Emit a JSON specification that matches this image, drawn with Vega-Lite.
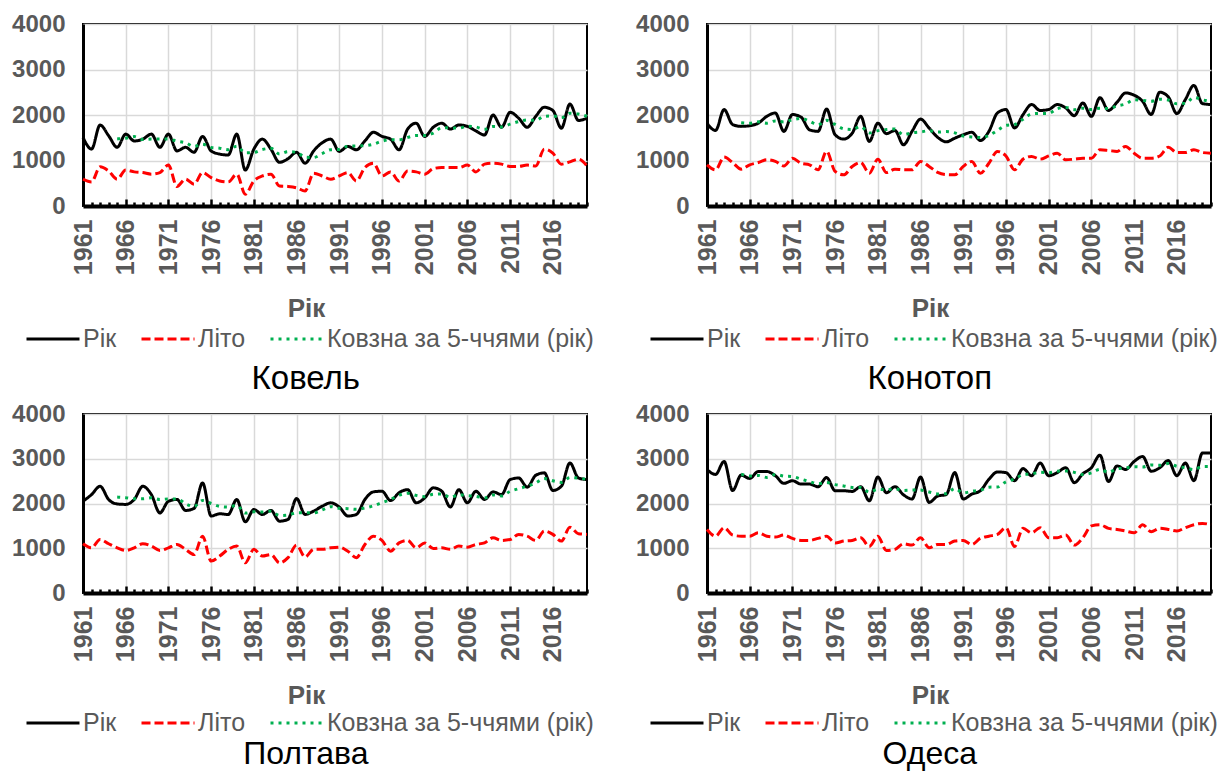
{
  "$schema": "https://vega.github.io/schema/vega-lite/v6.json",
  "background": "white",
  "padding": {"left": 10, "top": 11, "right": 2, "bottom": 0},
  "config": {
    "font": "Liberation Sans",
    "view": {"stroke": "#000000", "strokeWidth": 2},
    "title": {"orient": "bottom", "anchor": "middle", "frame": "bounds", "fontSize": 33, "fontWeight": "normal", "color": "#000000", "font": "Liberation Sans", "offset": 11},
    "legend": {"direction": "horizontal", "labelFont": "Liberation Sans", "labelFontSize": 25, "labelColor": "#595959", "symbolType": "stroke", "symbolSize": 2809, "symbolStrokeWidth": 3, "columnPadding": 18, "labelOffset": 2, "padding": 0, "labelLimit": 400}
  },
  "datasets": {
    "K": [
      {"y":1961,"r":1510,"l":590},{"y":1962,"r":1250,"l":530},{"y":1963,"r":1780,"l":860},{"y":1964,"r":1545,"l":770},{"y":1965,"r":1290,"l":590,"m":1475},
      {"y":1966,"r":1580,"l":790,"m":1489},{"y":1967,"r":1430,"l":750,"m":1525},{"y":1968,"r":1470,"l":735,"m":1463},{"y":1969,"r":1580,"l":700,"m":1470},{"y":1970,"r":1290,"l":735,"m":1470},
      {"y":1971,"r":1580,"l":900,"m":1470},{"y":1972,"r":1210,"l":430,"m":1426},{"y":1973,"r":1290,"l":590,"m":1390},{"y":1974,"r":1180,"l":480,"m":1310},{"y":1975,"r":1530,"l":735,"m":1358},
      {"y":1976,"r":1210,"l":625,"m":1284},{"y":1977,"r":1140,"l":550,"m":1270},{"y":1978,"r":1120,"l":530,"m":1236},{"y":1979,"r":1580,"l":700,"m":1316},{"y":1980,"r":790,"l":260,"m":1168},
      {"y":1981,"r":1250,"l":550,"m":1176},{"y":1982,"r":1470,"l":660,"m":1242},{"y":1983,"r":1250,"l":700,"m":1268},{"y":1984,"r":960,"l":440,"m":1144},{"y":1985,"r":1040,"l":430,"m":1194},
      {"y":1986,"r":1180,"l":400,"m":1180},{"y":1987,"r":940,"l":330,"m":1074},{"y":1988,"r":1210,"l":720,"m":1066},{"y":1989,"r":1390,"l":660,"m":1152},{"y":1990,"r":1470,"l":590,"m":1238},
      {"y":1991,"r":1200,"l":660,"m":1242},{"y":1992,"r":1310,"l":735,"m":1316},{"y":1993,"r":1235,"l":550,"m":1321},{"y":1994,"r":1430,"l":845,"m":1329},{"y":1995,"r":1620,"l":940,"m":1359},
      {"y":1996,"r":1530,"l":660,"m":1425},{"y":1997,"r":1470,"l":750,"m":1457},{"y":1998,"r":1235,"l":550,"m":1457},{"y":1999,"r":1690,"l":770,"m":1509},{"y":2000,"r":1820,"l":750,"m":1549},
      {"y":2001,"r":1530,"l":700,"m":1549},{"y":2002,"r":1730,"l":820,"m":1601},{"y":2003,"r":1820,"l":845,"m":1718},{"y":2004,"r":1690,"l":845,"m":1718},{"y":2005,"r":1780,"l":845,"m":1710},
      {"y":2006,"r":1750,"l":900,"m":1754},{"y":2007,"r":1650,"l":750,"m":1738},{"y":2008,"r":1560,"l":920,"m":1686},{"y":2009,"r":2000,"l":940,"m":1748},{"y":2010,"r":1730,"l":920,"m":1738},
      {"y":2011,"r":2060,"l":870,"m":1800},{"y":2012,"r":1930,"l":870,"m":1856},{"y":2013,"r":1730,"l":900,"m":1890},{"y":2014,"r":1970,"l":880,"m":1884},{"y":2015,"r":2170,"l":1250,"m":1972},
      {"y":2016,"r":2100,"l":1160,"m":1980},{"y":2017,"r":1710,"l":920,"m":1936},{"y":2018,"r":2240,"l":970,"m":2038},{"y":2019,"r":1880,"l":1030,"m":2020},{"y":2020,"r":1930,"l":880,"m":1972}
    ],
    "Kn": [
      {"y":1961,"r":1820,"l":905},{"y":1962,"r":1660,"l":795},{"y":1963,"r":2120,"l":1075},{"y":1964,"r":1790,"l":955},{"y":1965,"r":1750,"l":810,"m":1828},
      {"y":1966,"r":1765,"l":905,"m":1817},{"y":1967,"r":1820,"l":955,"m":1849},{"y":1968,"r":1970,"l":1015,"m":1819},{"y":1969,"r":2045,"l":980,"m":1870},{"y":1970,"r":1640,"l":880,"m":1848},
      {"y":1971,"r":2010,"l":1050,"m":1897},{"y":1972,"r":1955,"l":940,"m":1924},{"y":1973,"r":1675,"l":905,"m":1865},{"y":1974,"r":1640,"l":795,"m":1784},{"y":1975,"r":2130,"l":1200,"m":1882},
      {"y":1976,"r":1565,"l":760,"m":1793},{"y":1977,"r":1470,"l":685,"m":1696},{"y":1978,"r":1600,"l":870,"m":1681},{"y":1979,"r":1970,"l":955,"m":1747},{"y":1980,"r":1420,"l":720,"m":1605},
      {"y":1981,"r":1820,"l":1030,"m":1656},{"y":1982,"r":1590,"l":735,"m":1680},{"y":1983,"r":1660,"l":810,"m":1692},{"y":1984,"r":1345,"l":795,"m":1567},{"y":1985,"r":1640,"l":795,"m":1611},
      {"y":1986,"r":1910,"l":980,"m":1629},{"y":1987,"r":1715,"l":870,"m":1654},{"y":1988,"r":1510,"l":740,"m":1624},{"y":1989,"r":1410,"l":690,"m":1637},{"y":1990,"r":1490,"l":685,"m":1607},
      {"y":1991,"r":1565,"l":870,"m":1538},{"y":1992,"r":1620,"l":980,"m":1519},{"y":1993,"r":1440,"l":720,"m":1505},{"y":1994,"r":1640,"l":940,"m":1551},{"y":1995,"r":2045,"l":1200,"m":1662},
      {"y":1996,"r":2120,"l":1100,"m":1773},{"y":1997,"r":1715,"l":795,"m":1792},{"y":1998,"r":2010,"l":1030,"m":1906},{"y":1999,"r":2230,"l":1090,"m":2024},{"y":2000,"r":2100,"l":1030,"m":2035},
      {"y":2001,"r":2120,"l":1100,"m":2035},{"y":2002,"r":2230,"l":1160,"m":2138},{"y":2003,"r":2155,"l":1015,"m":2167},{"y":2004,"r":1985,"l":1030,"m":2118},{"y":2005,"r":2265,"l":1050,"m":2151},
      {"y":2006,"r":1970,"l":1050,"m":2121},{"y":2007,"r":2380,"l":1235,"m":2151},{"y":2008,"r":2100,"l":1220,"m":2140},{"y":2009,"r":2280,"l":1200,"m":2199},{"y":2010,"r":2485,"l":1310,"m":2243},
      {"y":2011,"r":2435,"l":1160,"m":2336},{"y":2012,"r":2300,"l":1050,"m":2320},{"y":2013,"r":2010,"l":1050,"m":2302},{"y":2014,"r":2500,"l":1100,"m":2346},{"y":2015,"r":2400,"l":1290,"m":2329},
      {"y":2016,"r":2030,"l":1175,"m":2248},{"y":2017,"r":2340,"l":1175,"m":2256},{"y":2018,"r":2650,"l":1235,"m":2384},{"y":2019,"r":2250,"l":1175,"m":2334},{"y":2020,"r":2230,"l":1160,"m":2292}
    ],
    "P": [
      {"y":1961,"r":2050,"l":1100},{"y":1962,"r":2200,"l":1010},{"y":1963,"r":2385,"l":1195},{"y":1964,"r":2090,"l":1100},{"y":1965,"r":1990,"l":1010,"m":2143},
      {"y":1966,"r":1980,"l":950,"m":2129},{"y":1967,"r":2090,"l":1010,"m":2107},{"y":1968,"r":2385,"l":1100,"m":2107},{"y":1969,"r":2200,"l":1050,"m":2129},{"y":1970,"r":1790,"l":950,"m":2089},
      {"y":1971,"r":2050,"l":1010,"m":2103},{"y":1972,"r":2090,"l":1085,"m":2103},{"y":1973,"r":1845,"l":975,"m":1995},{"y":1974,"r":1890,"l":860,"m":1933},{"y":1975,"r":2460,"l":1270,"m":2067},
      {"y":1976,"r":1720,"l":715,"m":2001},{"y":1977,"r":1770,"l":825,"m":1937},{"y":1978,"r":1755,"l":975,"m":1919},{"y":1979,"r":2090,"l":1050,"m":1959},{"y":1980,"r":1590,"l":675,"m":1785},
      {"y":1981,"r":1865,"l":975,"m":1814},{"y":1982,"r":1755,"l":825,"m":1811},{"y":1983,"r":1845,"l":860,"m":1829},{"y":1984,"r":1605,"l":675,"m":1732},{"y":1985,"r":1645,"l":790,"m":1743},
      {"y":1986,"r":2110,"l":1070,"m":1792},{"y":1987,"r":1755,"l":805,"m":1792},{"y":1988,"r":1830,"l":975,"m":1789},{"y":1989,"r":1940,"l":975,"m":1856},{"y":1990,"r":2015,"l":1010,"m":1930},
      {"y":1991,"r":1920,"l":1025,"m":1892},{"y":1992,"r":1720,"l":935,"m":1885},{"y":1993,"r":1755,"l":790,"m":1870},{"y":1994,"r":2090,"l":1085,"m":1900},{"y":1995,"r":2260,"l":1270,"m":1949},
      {"y":1996,"r":2275,"l":1175,"m":2020},{"y":1997,"r":2065,"l":935,"m":2089},{"y":1998,"r":2240,"l":1120,"m":2186},{"y":1999,"r":2310,"l":1175,"m":2230},{"y":2000,"r":2015,"l":1010,"m":2181},
      {"y":2001,"r":2125,"l":1120,"m":2151},{"y":2002,"r":2350,"l":995,"m":2208},{"y":2003,"r":2275,"l":1010,"m":2215},{"y":2004,"r":1920,"l":975,"m":2137},{"y":2005,"r":2310,"l":1050,"m":2196},
      {"y":2006,"r":2015,"l":1025,"m":2174},{"y":2007,"r":2275,"l":1085,"m":2159},{"y":2008,"r":2090,"l":1120,"m":2122},{"y":2009,"r":2260,"l":1235,"m":2190},{"y":2010,"r":2200,"l":1175,"m":2168},
      {"y":2011,"r":2535,"l":1195,"m":2272},{"y":2012,"r":2570,"l":1310,"m":2331},{"y":2013,"r":2365,"l":1270,"m":2386},{"y":2014,"r":2630,"l":1175,"m":2460},{"y":2015,"r":2685,"l":1385,"m":2557},
      {"y":2016,"r":2290,"l":1310,"m":2508},{"y":2017,"r":2385,"l":1160,"m":2471},{"y":2018,"r":2905,"l":1470,"m":2579},{"y":2019,"r":2570,"l":1325,"m":2567},{"y":2020,"r":2535,"l":1310,"m":2537}
    ],
    "O": [
      {"y":1961,"r":2760,"l":1420},{"y":1962,"r":2650,"l":1270},{"y":1963,"r":2940,"l":1460},{"y":1964,"r":2290,"l":1295},{"y":1965,"r":2635,"l":1270,"m":2655},
      {"y":1966,"r":2560,"l":1270,"m":2615},{"y":1967,"r":2715,"l":1345,"m":2628},{"y":1968,"r":2715,"l":1270,"m":2583},{"y":1969,"r":2620,"l":1250,"m":2649},{"y":1970,"r":2450,"l":1295,"m":2612},
      {"y":1971,"r":2510,"l":1220,"m":2602},{"y":1972,"r":2435,"l":1175,"m":2546},{"y":1973,"r":2435,"l":1175,"m":2490},{"y":1974,"r":2375,"l":1220,"m":2441},{"y":1975,"r":2580,"l":1270,"m":2467},
      {"y":1976,"r":2285,"l":1115,"m":2422},{"y":1977,"r":2285,"l":1160,"m":2392},{"y":1978,"r":2270,"l":1175,"m":2359},{"y":1979,"r":2375,"l":1235,"m":2359},{"y":1980,"r":2060,"l":1040,"m":2255},
      {"y":1981,"r":2590,"l":1270,"m":2316},{"y":1982,"r":2240,"l":950,"m":2307},{"y":1983,"r":2375,"l":975,"m":2328},{"y":1984,"r":2195,"l":1100,"m":2292},{"y":1985,"r":2100,"l":1070,"m":2300},
      {"y":1986,"r":2590,"l":1235,"m":2300},{"y":1987,"r":2025,"l":1010,"m":2257},{"y":1988,"r":2165,"l":1085,"m":2215},{"y":1989,"r":2200,"l":1085,"m":2216},{"y":1990,"r":2690,"l":1160,"m":2334},
      {"y":1991,"r":2100,"l":1175,"m":2236},{"y":1992,"r":2210,"l":1085,"m":2273},{"y":1993,"r":2285,"l":1220,"m":2297},{"y":1994,"r":2540,"l":1270,"m":2365},{"y":1995,"r":2705,"l":1310,"m":2368},
      {"y":1996,"r":2690,"l":1460,"m":2486},{"y":1997,"r":2510,"l":1040,"m":2546},{"y":1998,"r":2780,"l":1445,"m":2645},{"y":1999,"r":2620,"l":1345,"m":2661},{"y":2000,"r":2905,"l":1460,"m":2701},
      {"y":2001,"r":2620,"l":1235,"m":2687},{"y":2002,"r":2690,"l":1235,"m":2723},{"y":2003,"r":2800,"l":1295,"m":2727},{"y":2004,"r":2465,"l":1070,"m":2696},{"y":2005,"r":2665,"l":1235,"m":2648},
      {"y":2006,"r":2800,"l":1500,"m":2684},{"y":2007,"r":3080,"l":1525,"m":2762},{"y":2008,"r":2490,"l":1445,"m":2700},{"y":2009,"r":2840,"l":1420,"m":2775},{"y":2010,"r":2760,"l":1385,"m":2794},
      {"y":2011,"r":2940,"l":1345,"m":2822},{"y":2012,"r":3050,"l":1525,"m":2816},{"y":2013,"r":2720,"l":1370,"m":2862},{"y":2014,"r":2800,"l":1445,"m":2854},{"y":2015,"r":2960,"l":1420,"m":2894},
      {"y":2016,"r":2620,"l":1385,"m":2830},{"y":2017,"r":2905,"l":1460,"m":2801},{"y":2018,"r":2510,"l":1525,"m":2759},{"y":2019,"r":3130,"l":1555,"m":2825},{"y":2020,"r":3130,"l":1525,"m":2825}
    ]
  },
  "resolve": {"legend": {"color": "independent", "strokeDash": "independent"}},
  "spacing": 4,
  "vconcat": [
    {
      "spacing": 33,
      "resolve": {"legend": {"color": "independent", "strokeDash": "independent"}},
      "hconcat": [
        {
          "data": {"name": "K"}, "width": 504, "height": 182, "title": {"text": "Ковель", "offset": 11},
          "transform": [{"fold": ["r", "l", "m"], "as": ["s", "v"]}],
          "mark": {"type": "line", "interpolate": "monotone", "strokeWidth": 3, "strokeCap": "butt", "invalid": "filter"},
          "encoding": {
            "x": {"field": "y", "type": "quantitative", "scale": {"domain": [1961, 2020], "nice": false, "zero": false},
              "axis": {"values": [1961,1962,1963,1964,1965,1966,1967,1968,1969,1970,1971,1972,1973,1974,1975,1976,1977,1978,1979,1980,1981,1982,1983,1984,1985,1986,1987,1988,1989,1990,1991,1992,1993,1994,1995,1996,1997,1998,1999,2000,2001,2002,2003,2004,2005,2006,2007,2008,2009,2010,2011,2012,2013,2014,2015,2016,2017,2018,2019,2020],
                "format": "d", "labelExpr": "(datum.value - 1961) % 5 == 0 ? datum.label : ''", "labelAngle": -90, "labelFont": "Liberation Sans", "labelFontWeight": "bold", "labelFontSize": 25, "labelColor": "#595959", "labelPadding": 20, "labelOverlap": false, "labelFlush": false, "labelBound": false,
                "tickSize": {"condition": {"test": "(datum.value - 1961) % 5 == 0", "value": -7}, "value": -4}, "tickWidth": 2.5, "tickColor": "#000000",
                "grid": true, "gridColor": "#d9d9d9", "gridWidth": 1.5, "gridOpacity": {"condition": {"test": "(datum.value - 1961) % 5 == 0", "value": 1}, "value": 0},
                "domainColor": "#000000", "domainWidth": 4,
                "title": "Рік", "titleX": 223, "titleFont": "Liberation Sans", "titleFontWeight": "bold", "titleFontSize": 26, "titleColor": "#595959", "titlePadding": 21}},
            "y": {"field": "v", "type": "quantitative", "scale": {"domain": [0, 4000], "nice": false},
              "axis": {"values": [0, 1000, 2000, 3000, 4000], "format": "d", "title": null, "ticks": false, "labelFont": "Liberation Sans", "labelFontWeight": "bold", "labelFontSize": 24, "labelColor": "#595959", "labelPadding": 18,
                "grid": true, "gridColor": "#d9d9d9", "gridWidth": 1.5, "domainColor": "#000000", "domainWidth": 3}},
            "color": {"field": "s", "type": "nominal", "scale": {"domain": ["r", "l", "m"], "range": ["#000000", "#ff0000", "#00b050"]},
              "legend": {"title": null, "orient": "none", "legendX": -58, "legendY": 287, "labelExpr": "datum.label == 'r' ? 'Рік' : datum.label == 'l' ? 'Літо' : 'Ковзна за 5-ччями (рік)'"}},
            "strokeDash": {"field": "s", "type": "nominal", "scale": {"domain": ["r", "l", "m"], "range": [[1, 0], [9, 4], [3, 5]]},
              "legend": {"title": null, "orient": "none", "legendX": -58, "legendY": 287, "labelExpr": "datum.label == 'r' ? 'Рік' : datum.label == 'l' ? 'Літо' : 'Ковзна за 5-ччями (рік)'"}}
          }
        },
        {
          "data": {"name": "Kn"}, "width": 504, "height": 182, "title": {"text": "Конотоп", "offset": 11},
          "transform": [{"fold": ["r", "l", "m"], "as": ["s", "v"]}],
          "mark": {"type": "line", "interpolate": "monotone", "strokeWidth": 3, "strokeCap": "butt", "invalid": "filter"},
          "encoding": {
            "x": {"field": "y", "type": "quantitative", "scale": {"domain": [1961, 2020], "nice": false, "zero": false},
              "axis": {"values": [1961,1962,1963,1964,1965,1966,1967,1968,1969,1970,1971,1972,1973,1974,1975,1976,1977,1978,1979,1980,1981,1982,1983,1984,1985,1986,1987,1988,1989,1990,1991,1992,1993,1994,1995,1996,1997,1998,1999,2000,2001,2002,2003,2004,2005,2006,2007,2008,2009,2010,2011,2012,2013,2014,2015,2016,2017,2018,2019,2020],
                "format": "d", "labelExpr": "(datum.value - 1961) % 5 == 0 ? datum.label : ''", "labelAngle": -90, "labelFont": "Liberation Sans", "labelFontWeight": "bold", "labelFontSize": 25, "labelColor": "#595959", "labelPadding": 20, "labelOverlap": false, "labelFlush": false, "labelBound": false,
                "tickSize": {"condition": {"test": "(datum.value - 1961) % 5 == 0", "value": -7}, "value": -4}, "tickWidth": 2.5, "tickColor": "#000000",
                "grid": true, "gridColor": "#d9d9d9", "gridWidth": 1.5, "gridOpacity": {"condition": {"test": "(datum.value - 1961) % 5 == 0", "value": 1}, "value": 0},
                "domainColor": "#000000", "domainWidth": 4,
                "title": "Рік", "titleX": 223, "titleFont": "Liberation Sans", "titleFontWeight": "bold", "titleFontSize": 26, "titleColor": "#595959", "titlePadding": 21}},
            "y": {"field": "v", "type": "quantitative", "scale": {"domain": [0, 4000], "nice": false},
              "axis": {"values": [0, 1000, 2000, 3000, 4000], "format": "d", "title": null, "ticks": false, "labelFont": "Liberation Sans", "labelFontWeight": "bold", "labelFontSize": 24, "labelColor": "#595959", "labelPadding": 18,
                "grid": true, "gridColor": "#d9d9d9", "gridWidth": 1.5, "domainColor": "#000000", "domainWidth": 3}},
            "color": {"field": "s", "type": "nominal", "scale": {"domain": ["r", "l", "m"], "range": ["#000000", "#ff0000", "#00b050"]},
              "legend": {"title": null, "orient": "none", "legendX": -58, "legendY": 287, "labelExpr": "datum.label == 'r' ? 'Рік' : datum.label == 'l' ? 'Літо' : 'Ковзна за 5-ччями (рік)'"}},
            "strokeDash": {"field": "s", "type": "nominal", "scale": {"domain": ["r", "l", "m"], "range": [[1, 0], [9, 4], [3, 5]]},
              "legend": {"title": null, "orient": "none", "legendX": -58, "legendY": 287, "labelExpr": "datum.label == 'r' ? 'Рік' : datum.label == 'l' ? 'Літо' : 'Ковзна за 5-ччями (рік)'"}}
          }
        }
      ]
    },
    {
      "spacing": 33,
      "resolve": {"legend": {"color": "independent", "strokeDash": "independent"}},
      "hconcat": [
        {
          "data": {"name": "P"}, "width": 504, "height": 179, "title": {"text": "Полтава", "offset": 3, "fontSize": 32},
          "transform": [{"fold": ["r", "l", "m"], "as": ["s", "v"]}],
          "mark": {"type": "line", "interpolate": "monotone", "strokeWidth": 3, "strokeCap": "butt", "invalid": "filter"},
          "encoding": {
            "x": {"field": "y", "type": "quantitative", "scale": {"domain": [1961, 2020], "nice": false, "zero": false},
              "axis": {"values": [1961,1962,1963,1964,1965,1966,1967,1968,1969,1970,1971,1972,1973,1974,1975,1976,1977,1978,1979,1980,1981,1982,1983,1984,1985,1986,1987,1988,1989,1990,1991,1992,1993,1994,1995,1996,1997,1998,1999,2000,2001,2002,2003,2004,2005,2006,2007,2008,2009,2010,2011,2012,2013,2014,2015,2016,2017,2018,2019,2020],
                "format": "d", "labelExpr": "(datum.value - 1961) % 5 == 0 ? datum.label : ''", "labelAngle": -90, "labelFont": "Liberation Sans", "labelFontWeight": "bold", "labelFontSize": 25, "labelColor": "#595959", "labelPadding": 20, "labelOverlap": false, "labelFlush": false, "labelBound": false,
                "tickSize": {"condition": {"test": "(datum.value - 1961) % 5 == 0", "value": -7}, "value": -4}, "tickWidth": 2.5, "tickColor": "#000000",
                "grid": true, "gridColor": "#d9d9d9", "gridWidth": 1.5, "gridOpacity": {"condition": {"test": "(datum.value - 1961) % 5 == 0", "value": 1}, "value": 0},
                "domainColor": "#000000", "domainWidth": 4,
                "title": "Рік", "titleX": 223, "titleFont": "Liberation Sans", "titleFontWeight": "bold", "titleFontSize": 26, "titleColor": "#595959", "titlePadding": 21}},
            "y": {"field": "v", "type": "quantitative", "scale": {"domain": [0, 4000], "nice": false},
              "axis": {"values": [0, 1000, 2000, 3000, 4000], "format": "d", "title": null, "ticks": false, "labelFont": "Liberation Sans", "labelFontWeight": "bold", "labelFontSize": 24, "labelColor": "#595959", "labelPadding": 18,
                "grid": true, "gridColor": "#d9d9d9", "gridWidth": 1.5, "domainColor": "#000000", "domainWidth": 3}},
            "color": {"field": "s", "type": "nominal", "scale": {"domain": ["r", "l", "m"], "range": ["#000000", "#ff0000", "#00b050"]},
              "legend": {"title": null, "orient": "none", "legendX": -58, "legendY": 281, "labelExpr": "datum.label == 'r' ? 'Рік' : datum.label == 'l' ? 'Літо' : 'Ковзна за 5-ччями (рік)'"}},
            "strokeDash": {"field": "s", "type": "nominal", "scale": {"domain": ["r", "l", "m"], "range": [[1, 0], [9, 4], [3, 5]]},
              "legend": {"title": null, "orient": "none", "legendX": -58, "legendY": 281, "labelExpr": "datum.label == 'r' ? 'Рік' : datum.label == 'l' ? 'Літо' : 'Ковзна за 5-ччями (рік)'"}}
          }
        },
        {
          "data": {"name": "O"}, "width": 504, "height": 179, "title": {"text": "Одеса", "offset": 3, "fontSize": 32},
          "transform": [{"fold": ["r", "l", "m"], "as": ["s", "v"]}],
          "mark": {"type": "line", "interpolate": "monotone", "strokeWidth": 3, "strokeCap": "butt", "invalid": "filter"},
          "encoding": {
            "x": {"field": "y", "type": "quantitative", "scale": {"domain": [1961, 2020], "nice": false, "zero": false},
              "axis": {"values": [1961,1962,1963,1964,1965,1966,1967,1968,1969,1970,1971,1972,1973,1974,1975,1976,1977,1978,1979,1980,1981,1982,1983,1984,1985,1986,1987,1988,1989,1990,1991,1992,1993,1994,1995,1996,1997,1998,1999,2000,2001,2002,2003,2004,2005,2006,2007,2008,2009,2010,2011,2012,2013,2014,2015,2016,2017,2018,2019,2020],
                "format": "d", "labelExpr": "(datum.value - 1961) % 5 == 0 ? datum.label : ''", "labelAngle": -90, "labelFont": "Liberation Sans", "labelFontWeight": "bold", "labelFontSize": 25, "labelColor": "#595959", "labelPadding": 20, "labelOverlap": false, "labelFlush": false, "labelBound": false,
                "tickSize": {"condition": {"test": "(datum.value - 1961) % 5 == 0", "value": -7}, "value": -4}, "tickWidth": 2.5, "tickColor": "#000000",
                "grid": true, "gridColor": "#d9d9d9", "gridWidth": 1.5, "gridOpacity": {"condition": {"test": "(datum.value - 1961) % 5 == 0", "value": 1}, "value": 0},
                "domainColor": "#000000", "domainWidth": 4,
                "title": "Рік", "titleX": 223, "titleFont": "Liberation Sans", "titleFontWeight": "bold", "titleFontSize": 26, "titleColor": "#595959", "titlePadding": 21}},
            "y": {"field": "v", "type": "quantitative", "scale": {"domain": [0, 4000], "nice": false},
              "axis": {"values": [0, 1000, 2000, 3000, 4000], "format": "d", "title": null, "ticks": false, "labelFont": "Liberation Sans", "labelFontWeight": "bold", "labelFontSize": 24, "labelColor": "#595959", "labelPadding": 18,
                "grid": true, "gridColor": "#d9d9d9", "gridWidth": 1.5, "domainColor": "#000000", "domainWidth": 3}},
            "color": {"field": "s", "type": "nominal", "scale": {"domain": ["r", "l", "m"], "range": ["#000000", "#ff0000", "#00b050"]},
              "legend": {"title": null, "orient": "none", "legendX": -58, "legendY": 281, "labelExpr": "datum.label == 'r' ? 'Рік' : datum.label == 'l' ? 'Літо' : 'Ковзна за 5-ччями (рік)'"}},
            "strokeDash": {"field": "s", "type": "nominal", "scale": {"domain": ["r", "l", "m"], "range": [[1, 0], [9, 4], [3, 5]]},
              "legend": {"title": null, "orient": "none", "legendX": -58, "legendY": 281, "labelExpr": "datum.label == 'r' ? 'Рік' : datum.label == 'l' ? 'Літо' : 'Ковзна за 5-ччями (рік)'"}}
          }
        }
      ]
    }
  ]
}
